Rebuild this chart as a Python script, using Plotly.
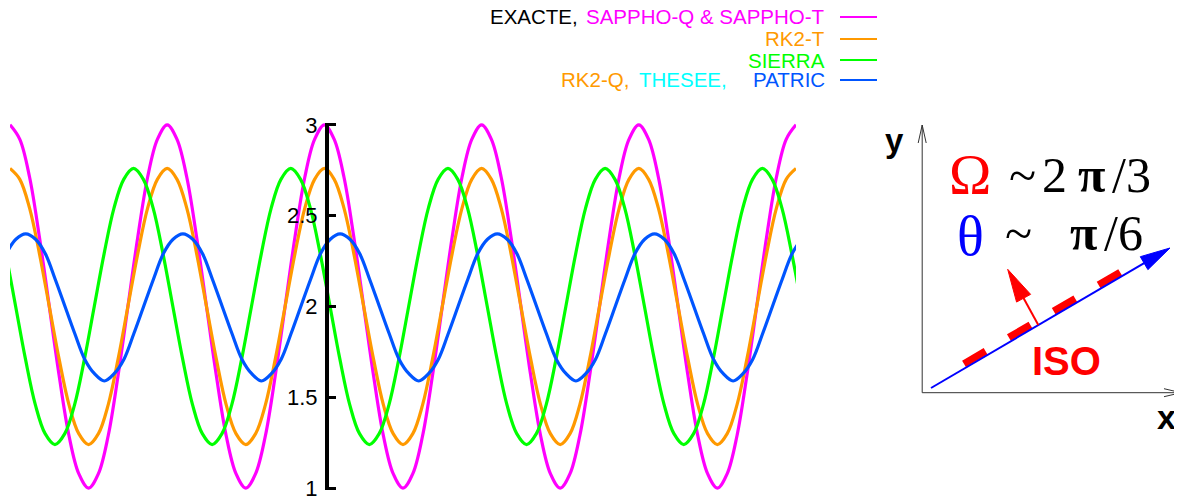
import math
import plotly.graph_objects as go

# ---------------- data (x in periods) ----------------
x_sappho = [0, 0.0625, 0.125, 0.1875, 0.25, 0.3125, 0.375, 0.4375, 0.5, 0.5625, 0.625, 0.6875, 0.75, 0.8125, 0.875, 0.9375,
            1, 1.0625, 1.125, 1.1875, 1.25, 1.3125, 1.375, 1.4375, 1.5, 1.5625, 1.625, 1.6875, 1.75, 1.8125, 1.875, 1.9375,
            2, 2.0625, 2.125, 2.1875, 2.25, 2.3125, 2.375, 2.4375, 2.5, 2.5625, 2.625, 2.6875, 2.75, 2.8125, 2.875, 2.9375,
            3, 3.0625, 3.125, 3.1875, 3.25, 3.3125, 3.375, 3.4375, 3.5, 3.5625, 3.625, 3.6875, 3.75, 3.8125, 3.875, 3.9375,
            4, 4.0625, 4.125, 4.1875, 4.25, 4.3125, 4.375, 4.4375, 4.5, 4.5625, 4.625, 4.6875, 4.75, 4.8125, 4.875, 4.9375,
            5]
y_sappho = [3.00, 2.92, 2.71, 2.38, 2.00, 1.62, 1.29, 1.08, 1.00, 1.08, 1.29, 1.62, 2.00, 2.38, 2.71, 2.92,
            3.00, 2.92, 2.71, 2.38, 2.00, 1.62, 1.29, 1.08, 1.00, 1.08, 1.29, 1.62, 2.00, 2.38, 2.71, 2.92,
            3.00, 2.92, 2.71, 2.38, 2.00, 1.62, 1.29, 1.08, 1.00, 1.08, 1.29, 1.62, 2.00, 2.38, 2.71, 2.92,
            3.00, 2.92, 2.71, 2.38, 2.00, 1.62, 1.29, 1.08, 1.00, 1.08, 1.29, 1.62, 2.00, 2.38, 2.71, 2.92,
            3.00, 2.92, 2.71, 2.38, 2.00, 1.62, 1.29, 1.08, 1.00, 1.08, 1.29, 1.62, 2.00, 2.38, 2.71, 2.92,
            3.00]

x_rk2t = [0, 0.0625, 0.125, 0.1875, 0.25, 0.3125, 0.375, 0.4375, 0.5, 0.5625, 0.625, 0.6875, 0.75, 0.8125, 0.875, 0.9375,
          1, 1.0625, 1.125, 1.1875, 1.25, 1.3125, 1.375, 1.4375, 1.5, 1.5625, 1.625, 1.6875, 1.75, 1.8125, 1.875, 1.9375,
          2, 2.0625, 2.125, 2.1875, 2.25, 2.3125, 2.375, 2.4375, 2.5, 2.5625, 2.625, 2.6875, 2.75, 2.8125, 2.875, 2.9375,
          3, 3.0625, 3.125, 3.1875, 3.25, 3.3125, 3.375, 3.4375, 3.5, 3.5625, 3.625, 3.6875, 3.75, 3.8125, 3.875, 3.9375,
          4, 4.0625, 4.125, 4.1875, 4.25, 4.3125, 4.375, 4.4375, 4.5, 4.5625, 4.625, 4.6875, 4.75, 4.8125, 4.875, 4.9375,
          5]
y_rk2t = [2.76, 2.70, 2.54, 2.29, 2.00, 1.71, 1.46, 1.30, 1.24, 1.30, 1.46, 1.71, 2.00, 2.29, 2.54, 2.70,
          2.76, 2.70, 2.54, 2.29, 2.00, 1.71, 1.46, 1.30, 1.24, 1.30, 1.46, 1.71, 2.00, 2.29, 2.54, 2.70,
          2.76, 2.70, 2.54, 2.29, 2.00, 1.71, 1.46, 1.30, 1.24, 1.30, 1.46, 1.71, 2.00, 2.29, 2.54, 2.70,
          2.76, 2.70, 2.54, 2.29, 2.00, 1.71, 1.46, 1.30, 1.24, 1.30, 1.46, 1.71, 2.00, 2.29, 2.54, 2.70,
          2.76, 2.70, 2.54, 2.29, 2.00, 1.71, 1.46, 1.30, 1.24, 1.30, 1.46, 1.71, 2.00, 2.29, 2.54, 2.70,
          2.76]

x_sierra = [-0.214, -0.1515, -0.089, -0.0265, 0.036, 0.0985, 0.161, 0.2235, 0.286, 0.3485, 0.411, 0.4735, 0.536, 0.5985, 0.661, 0.7235,
            0.786, 0.8485, 0.911, 0.9735, 1.036, 1.0985, 1.161, 1.2235, 1.286, 1.3485, 1.411, 1.4735, 1.536, 1.5985, 1.661, 1.7235,
            1.786, 1.8485, 1.911, 1.9735, 2.036, 2.0985, 2.161, 2.2235, 2.286, 2.3485, 2.411, 2.4735, 2.536, 2.5985, 2.661, 2.7235,
            2.786, 2.8485, 2.911, 2.9735, 3.036, 3.0985, 3.161, 3.2235, 3.286, 3.3485, 3.411, 3.4735, 3.536, 3.5985, 3.661, 3.7235,
            3.786, 3.8485, 3.911, 3.9735, 4.036, 4.0985, 4.161, 4.2235, 4.286, 4.3485, 4.411, 4.4735, 4.536, 4.5985, 4.661, 4.7235,
            4.786, 4.8485, 4.911, 4.9735, 5.036]
y_sierra = [2.76, 2.70, 2.54, 2.29, 2.00, 1.71, 1.46, 1.30, 1.24, 1.30, 1.46, 1.71, 2.00, 2.29, 2.54, 2.70,
            2.76, 2.70, 2.54, 2.29, 2.00, 1.71, 1.46, 1.30, 1.24, 1.30, 1.46, 1.71, 2.00, 2.29, 2.54, 2.70,
            2.76, 2.70, 2.54, 2.29, 2.00, 1.71, 1.46, 1.30, 1.24, 1.30, 1.46, 1.71, 2.00, 2.29, 2.54, 2.70,
            2.76, 2.70, 2.54, 2.29, 2.00, 1.71, 1.46, 1.30, 1.24, 1.30, 1.46, 1.71, 2.00, 2.29, 2.54, 2.70,
            2.76, 2.70, 2.54, 2.29, 2.00, 1.71, 1.46, 1.30, 1.24, 1.30, 1.46, 1.71, 2.00, 2.29, 2.54, 2.70,
            2.76, 2.70, 2.54, 2.29, 2.00]

x_patric = [-0.025, 0.0375, 0.1, 0.1625, 0.225, 0.2875, 0.35, 0.4125, 0.475, 0.5375, 0.6, 0.6625, 0.725, 0.7875, 0.85, 0.9125,
            0.975, 1.0375, 1.1, 1.1625, 1.225, 1.2875, 1.35, 1.4125, 1.475, 1.5375, 1.6, 1.6625, 1.725, 1.7875, 1.85, 1.9125,
            1.975, 2.0375, 2.1, 2.1625, 2.225, 2.2875, 2.35, 2.4125, 2.475, 2.5375, 2.6, 2.6625, 2.725, 2.7875, 2.85, 2.9125,
            2.975, 3.0375, 3.1, 3.1625, 3.225, 3.2875, 3.35, 3.4125, 3.475, 3.5375, 3.6, 3.6625, 3.725, 3.7875, 3.85, 3.9125,
            3.975, 4.0375, 4.1, 4.1625, 4.225, 4.2875, 4.35, 4.4125, 4.475, 4.5375, 4.6, 4.6625, 4.725, 4.7875, 4.85, 4.9125,
            4.975, 5.0375, 5.1]
y_patric = [2.29, 2.37, 2.40, 2.37, 2.29, 2.15, 2.00, 1.85, 1.71, 1.63, 1.59, 1.63, 1.71, 1.85, 2.00, 2.15,
            2.29, 2.37, 2.40, 2.37, 2.29, 2.15, 2.00, 1.85, 1.71, 1.63, 1.59, 1.63, 1.71, 1.85, 2.00, 2.15,
            2.29, 2.37, 2.40, 2.37, 2.29, 2.15, 2.00, 1.85, 1.71, 1.63, 1.59, 1.63, 1.71, 1.85, 2.00, 2.15,
            2.29, 2.37, 2.40, 2.37, 2.29, 2.15, 2.00, 1.85, 1.71, 1.63, 1.59, 1.63, 1.71, 1.85, 2.00, 2.15,
            2.29, 2.37, 2.40, 2.37, 2.29, 2.15, 2.00, 1.85, 1.71, 1.63, 1.59, 1.63, 1.71, 1.85, 2.00, 2.15,
            2.29, 2.37, 2.40]

y_tickvals = [1, 1.5, 2, 2.5, 3]
y_ticktext = ["1", "1.5", "2", "2.5", "3"]

# ---------------- styles ----------------
MAGENTA = "#ff00ff"
ORANGE = "#ff9900"
GREEN = "#00ff00"
BLUE = "#0055ff"
CYAN = "#00ffff"
SANS = "Liberation Sans, Arial, sans-serif"
SERIF = "Liberation Serif, Times New Roman, serif"

W, H = 1182, 496
OFF = 8  # page offset of the figure (body margin)
# plot area in page pixels: x 10..796, y 123..490
PL, PR, PT, PB = 10, 796, 123, 490
ML, MR, MT, MB = PL - OFF, W - (PR - OFF), PT - OFF, H - (PB - OFF)
PW = PR - PL
PH = PB - PT


def PX(px):
    return (px - PL) / PW


def PY(py):
    return (PB - py) / PH


fig = go.Figure()
series = [
    (x_sappho, y_sappho, MAGENTA, "SAPPHO"),
    (x_rk2t, y_rk2t, ORANGE, "RK2-T"),
    (x_sierra, y_sierra, GREEN, "SIERRA"),
    (x_patric, y_patric, BLUE, "PATRIC"),
]
for xs, ys, col, name in series:
    fig.add_trace(go.Scatter(x=xs, y=ys, mode="lines", name=name,
                             line=dict(color=col, width=3.2, shape="spline", smoothing=1),
                             showlegend=False, hoverinfo="skip"))

shapes = []
annotations = []

# ---------------- legend (custom, right-aligned text + sample line) ----------------
leg_rows = [17, 39, 60, 80]
leg_cols = [MAGENTA, ORANGE, GREEN, BLUE]
for yy, col in zip(leg_rows, leg_cols):
    shapes.append(dict(type="line", xref="paper", yref="paper",
                       x0=PX(840), x1=PX(877), y0=PY(yy), y1=PY(yy),
                       line=dict(color=col, width=2)))


def txt(x, y, text, size, color="black", family=SANS, xanchor="center", bold=False):
    if bold:
        text = "<b>" + text + "</b>"
    annotations.append(dict(x=PX(x), y=PY(y), xref="paper", yref="paper",
                            text=text, showarrow=False, xanchor=xanchor,
                            yanchor="middle",
                            font=dict(size=size, color=color, family=family)))


LF = 20.5
txt(580, leg_rows[0], "EXACTE,", LF, "black", xanchor="right")
txt(827, leg_rows[0], "SAPPHO-Q &amp; SAPPHO-T", LF, MAGENTA, xanchor="right")
txt(827, leg_rows[1], "RK2-T", LF, ORANGE, xanchor="right")
txt(827, leg_rows[2], "SIERRA", LF, GREEN, xanchor="right")
txt(827, leg_rows[3], "PATRIC", LF, BLUE, xanchor="right")
txt(637, leg_rows[3], "THESEE,", LF, CYAN, xanchor="left")
txt(559, leg_rows[3], "RK2-Q,", LF, ORANGE, xanchor="left")

# ---------------- inset diagram ----------------
AX = "#333333"


def pline(x0, y0, x1, y1, color, width, dash=None):
    d = dict(color=color, width=width)
    if dash:
        d["dash"] = dash
    shapes.append(dict(type="line", xref="paper", yref="paper",
                       x0=PX(x0), y0=PY(y0), x1=PX(x1), y1=PY(y1), line=d))


def ppath(points, color, width=1, fill=None, closed=False):
    s = "M " + " L ".join("%f,%f" % (PX(a), PY(b)) for a, b in points)
    if closed:
        s += " Z"
    sh = dict(type="path", xref="paper", yref="paper", path=s,
              line=dict(color=color, width=width))
    if fill:
        sh["fillcolor"] = fill
    shapes.append(sh)


def arrow(sx, sy, tx, ty, color, width, head_len, head_half):
    dx, dy = tx - sx, ty - sy
    L = math.hypot(dx, dy)
    ux, uy = dx / L, dy / L
    nx, ny = -uy, ux
    bx, by = tx - head_len * ux, ty - head_len * uy
    pline(sx, sy, bx + ux, by + uy, color, width)
    ppath([(tx, ty), (bx + head_half * nx, by + head_half * ny),
           (bx - head_half * nx, by - head_half * ny)], color, 1, fill=color, closed=True)


# axes of the inset
ox, oy = 922.2, 392.7
pline(ox, oy, ox, 125, AX, 1)
ppath([(ox - 4, 143), (ox, 125), (ox + 4, 143)], AX, 1)
pline(ox, oy, 1181, oy, AX, 1)
ppath([(1164, oy - 4), (1181, oy), (1164, oy + 4)], AX, 1)
txt(894.5, 141, "y", 33, bold=True)
txt(1166.7, 417, "x", 34, bold=True)

# red dashed ISO line (thick), just above the blue direction
ang = math.atan2(248 - 388, 1170 - 931)
cx, cy = math.cos(ang), math.sin(ang)
rs = (964, 388 + (964 - 931) * math.tan(ang) - 4.8)
rlen = 181
pline(rs[0], rs[1], rs[0] + rlen * cx, rs[1] + rlen * cy, "#ff0000", 7.5, dash="25px,27px")

# blue direction arrow
arrow(931, 388, 1170, 248, "#0000ff", 2, 30, 7.5)
# red normal arrow
arrow(1038.3, 325, 1007.7, 269.3, "#ff0000", 2, 33, 8)

txt(1066, 361, "ISO", 40, "#ff0000", bold=True)

# Omega / theta text
txt(970.5, 174, "Ω", 57, "#ff0000", family=SERIF)
txt(1022, 175, "~", 50, family=SERIF)
txt(1054, 175, "2", 50, family=SERIF)
txt(1091, 175, "<b>π</b>", 50, family=SERIF)
txt(1131, 175, "/3", 50, family=SERIF)
txt(970.5, 236, "θ", 56, "#0000ff", family=SERIF)
txt(1019, 233, "~", 50, family=SERIF)
txt(1083, 233, "<b>π</b>", 50, family=SERIF)
txt(1123, 233, "/6", 50, family=SERIF)

fig.update_layout(
    width=W, height=H,
    margin=dict(l=ML, r=MR, t=MT, b=MB, pad=0),
    paper_bgcolor="white", plot_bgcolor="white",
    font=dict(family=SANS, size=20, color="black"),
    showlegend=False,
    shapes=shapes, annotations=annotations,
    xaxis=dict(range=[0, 5], visible=False, showgrid=False, zeroline=False),
    yaxis=dict(range=[0.99, 3.01], anchor="free", position=PX(327), side="left",
               showgrid=False, zeroline=False, showline=True, linecolor="black",
               linewidth=4, ticks="inside", ticklen=7, tickwidth=3, tickcolor="black",
               tickvals=y_tickvals, ticktext=y_ticktext, ticklabelstandoff=3,
               tickfont=dict(size=22, color="black", family=SANS)),
)

fig.write_html("out.html")
